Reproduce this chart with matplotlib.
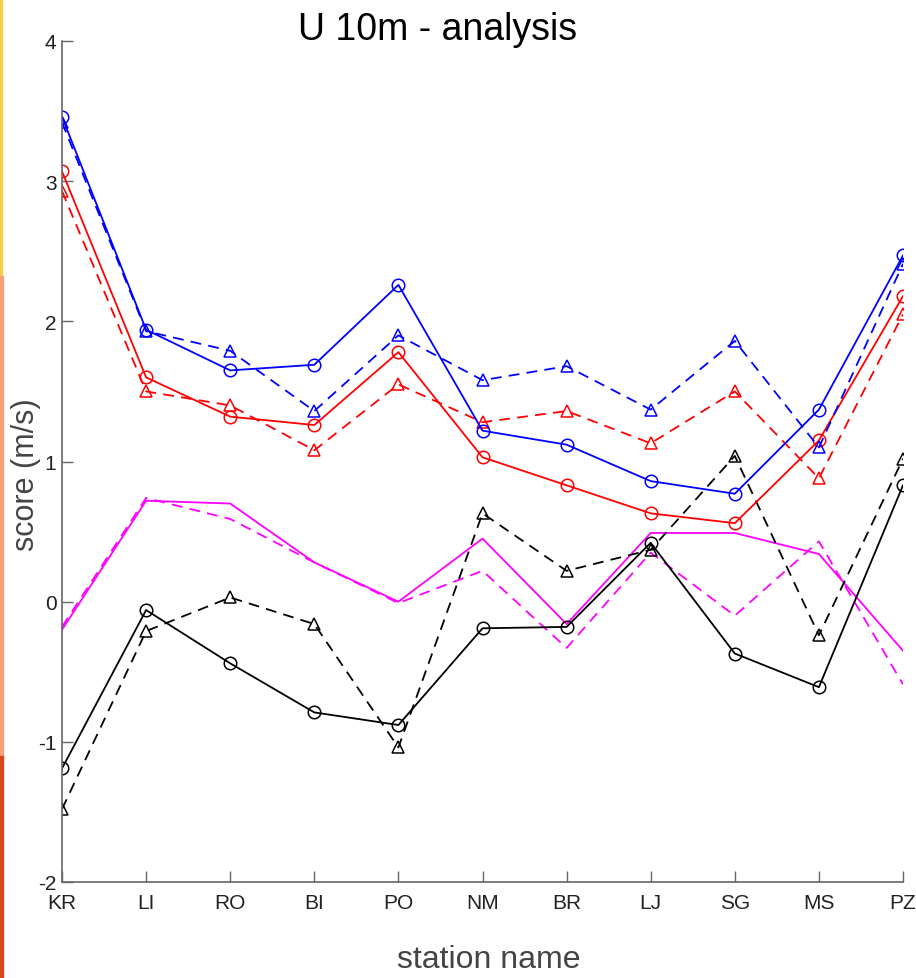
import matplotlib
matplotlib.use("Agg")
import matplotlib.pyplot as plt
from matplotlib.patches import Rectangle

plt.rcParams["axes.unicode_minus"] = False

stations = ["KR", "LI", "RO", "BI", "PO", "NM", "BR", "LJ", "SG", "MS", "PZ"]

blue_solid = [3.46, 1.94, 1.65, 1.69, 2.26, 1.22, 1.12, 0.86, 0.77, 1.37, 2.47]
blue_dash = [3.42, 1.93, 1.79, 1.36, 1.90, 1.58, 1.68, 1.37, 1.86, 1.10, 2.41]
red_solid = [3.07, 1.60, 1.32, 1.26, 1.78, 1.03, 0.83, 0.63, 0.56, 1.15, 2.18]
red_dash = [2.93, 1.50, 1.40, 1.08, 1.55, 1.28, 1.36, 1.13, 1.50, 0.88, 2.05]
black_solid = [-1.19, -0.06, -0.44, -0.79, -0.88, -0.19, -0.18, 0.42, -0.37, -0.61, 0.83]
black_dash = [-1.48, -0.21, 0.03, -0.16, -1.04, 0.63, 0.22, 0.37, 1.04, -0.24, 1.02]
mag_solid = [-0.20, 0.72, 0.70, 0.28, 0.00, 0.45, -0.16, 0.49, 0.49, 0.34, -0.35]
mag_dash = [-0.18, 0.74, 0.59, 0.28, -0.01, 0.22, -0.33, 0.35, -0.10, 0.43, -0.59]

x = list(range(len(stations)))

fig = plt.figure(figsize=(9.16, 9.79), dpi=100)
ax = fig.add_axes([62 / 916, 1 - 883 / 979, 841 / 916, 841 / 979])

dash = (0, (6, 4))
mk = dict(markersize=9, markerfacecolor="none", markeredgewidth=1.1)

ax.plot(x, mag_solid, color="#ff00ff", lw=1.3)
ax.plot(x, mag_dash, color="#ff00ff", lw=1.3, linestyle=dash)
ax.plot(x, black_solid, color="black", lw=1.3, marker="o", markeredgecolor="black", **mk)
ax.plot(x, black_dash, color="black", lw=1.3, linestyle=dash, marker="^",
        markeredgecolor="black", **mk)
ax.plot(x, red_solid, color="#ff0000", lw=1.3, marker="o", markeredgecolor="#ff0000", **mk)
ax.plot(x, red_dash, color="#ff0000", lw=1.3, linestyle=dash, marker="^",
        markeredgecolor="#ff0000", **mk)
ax.plot(x, blue_solid, color="#0000ff", lw=1.3, marker="o", markeredgecolor="#0000ff", **mk)
ax.plot(x, blue_dash, color="#0000ff", lw=1.3, linestyle=dash, marker="^",
        markeredgecolor="#0000ff", **mk)

ax.set_xlim(0, 10)
ax.set_ylim(-2, 4)
ax.set_xticks(x)
ax.set_xticklabels(stations)
ax.set_yticks([-2, -1, 0, 1, 2, 3, 4])

for s in ["top", "right"]:
    ax.spines[s].set_visible(False)
for s in ["left", "bottom"]:
    ax.spines[s].set_color("#666666")
    ax.spines[s].set_linewidth(1.2)
ax.tick_params(direction="in", length=8, color="#666666", width=1.0,
               labelsize=15, labelcolor="#222222")
ax.tick_params(axis="x", pad=8)
ax.tick_params(axis="y", pad=4)
for lab in ax.get_xticklabels() + ax.get_yticklabels():
    lab.set_family("Liberation Sans")

fig.text(0.478, 1 - 30 / 979, "U 10m - analysis", ha="center", va="center",
         fontsize=27, family="Liberation Sans", color="black")
fig.text(26 / 916, 1 - 475 / 979, "score (m/s)", rotation=90, ha="center",
         va="center", fontsize=22, family="Liberation Sans", color="#444444")
fig.text(489 / 916, 1 - 960 / 979, "station name", ha="center", va="center",
         fontsize=23, family="Liberation Sans", color="#444444")

# coloured strip along the left edge of the screenshot
fig.patches.append(Rectangle((0, 1 - 277 / 979), 1.5 / 916, 277 / 979,
                             transform=fig.transFigure, color="#f2d04a"))
fig.patches.append(Rectangle((0, 1 - 757 / 979), 2.5 / 916, 480 / 979,
                             transform=fig.transFigure, color="#f4a07a"))
fig.patches.append(Rectangle((0, 0), 2.5 / 916, 222 / 979,
                             transform=fig.transFigure, color="#d8461c"))

fig.savefig("out.png", dpi=100)
